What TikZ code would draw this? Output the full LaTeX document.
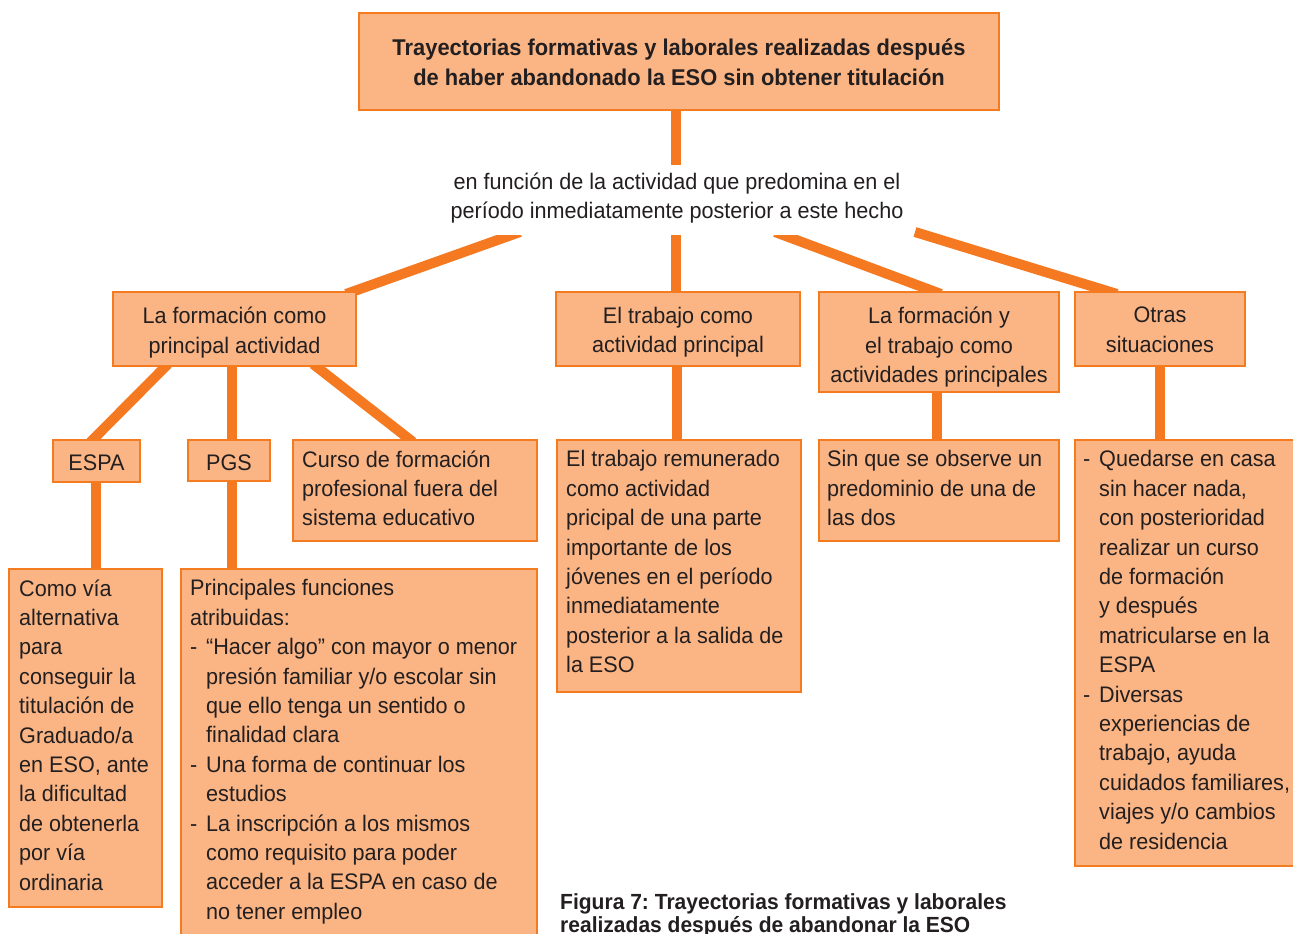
\documentclass[tikz,border=0pt]{standalone}
\usepackage{fontspec}
\setmainfont[FakeStretch=0.96]{Liberation Sans}
\usetikzlibrary{calc,backgrounds}
\definecolor{boxfill}{HTML}{FBB584}
\definecolor{boxline}{HTML}{F47B20}
\definecolor{linkcol}{HTML}{F47920}
\definecolor{inkcol}{HTML}{231F20}
\newcommand{\dashitem}{\makebox[16pt][l]{-}}
\newcommand{\cont}{\makebox[16pt][l]{}}
\frenchspacing
\begin{document}
\begin{tikzpicture}[x=1pt,y=-1pt,
  box/.style={draw=boxline, fill=boxfill, line width=1.2pt, inner sep=0pt, outer sep=0pt, anchor=north west},
  bodytxt/.style={font=\fontsize{22.5}{29.4}\selectfont, text=inkcol, inner sep=0pt, align=left, anchor=north west, execute at begin node=\strut},
  headtxt/.style={font=\fontsize{22.5}{29.4}\selectfont, text=inkcol, inner sep=0pt, align=center, anchor=north, execute at begin node=\strut},
  link/.style={draw=linkcol, line width=10pt},
]
\useasboundingbox (0,0) rectangle (1293,934);
\clip (0,0) rectangle (1293,934);

% ---------- title ----------
\node[box, minimum width=640pt, minimum height=97pt] (top) at (359,13) {};
\node[font=\fontsize{22.8}{30}\selectfont\bfseries, text=inkcol, inner sep=0pt, align=center, anchor=north, execute at begin node=\strut] (topt) at (679,39)
  {Trayectorias formativas y laborales realizadas después\\de haber abandonado la ESO sin obtener titulación};

% ---------- label ----------
\node[font=\fontsize{22.5}{28.5}\selectfont, text=inkcol, fill=white, inner xsep=6pt, inner ysep=8pt, align=center, anchor=north, execute at begin node=\strut] (lab) at (677,165)
  {en función de la actividad que predomina en el\\período inmediatamente posterior a este hecho};

% ---------- level 1 ----------
\node[box, minimum width=243pt, minimum height=74pt] (A) at (113,292) {};
\node[headtxt] (At) at (234.5,307) {La formación como\\principal actividad};
\node[box, minimum width=244pt, minimum height=74pt] (B) at (556,292) {};
\node[headtxt] (Bt) at (678,307) {El trabajo como\\actividad principal};
\node[box, minimum width=240pt, minimum height=100pt] (C) at (819,292) {};
\node[headtxt] (Ct) at (939,307) {La formación y\\el trabajo como\\actividades principales};
\node[box, minimum width=170pt, minimum height=74pt] (D) at (1075,292) {};
\node[headtxt] (Dt) at (1160,307) {Otras\\situaciones};

% ---------- level 2 ----------
\node[box, minimum width=87pt, minimum height=42pt] (espa) at (53,440) {};
\node[headtxt] (espat) at (96.5,450) {ESPA};
\node[box, minimum width=82pt, minimum height=41pt] (pgs) at (188,440) {};
\node[headtxt] (pgst) at (229,450) {PGS};
\node[box, minimum width=244pt, minimum height=101pt] (curso) at (293,440) {};
\node[bodytxt] (cursot) at (302,450.4) {Curso de formación\\profesional fuera del\\sistema educativo};
\node[box, minimum width=244pt, minimum height=252pt] (trab) at (557,440) {};
\node[bodytxt] (trabt) at (566,450.4) {El trabajo remunerado\\como actividad\\pricipal de una parte\\importante de los\\jóvenes en el período\\inmediatamente\\posterior a la salida de\\la ESO};
\node[box, minimum width=240pt, minimum height=101pt] (sinque) at (819,440) {};
\node[bodytxt] (sinquet) at (827,450.4) {Sin que se observe un\\predominio de una de\\las dos};
\node[box, minimum width=230pt, minimum height=426pt] (otras) at (1075,440) {};
\node[bodytxt] (otrast) at (1083,450.4) {\dashitem Quedarse en casa\\\cont sin hacer nada,\\\cont con posterioridad\\\cont realizar un curso\\\cont de formación\\\cont y después\\\cont matricularse en la\\\cont ESPA\\\dashitem Diversas\\\cont experiencias de\\\cont trabajo, ayuda\\\cont cuidados familiares,\\\cont viajes y/o cambios\\\cont de residencia};

% ---------- level 3 ----------
\node[box, minimum width=153pt, minimum height=338pt] (via) at (9,569) {};
\node[bodytxt] (viat) at (19,579.4) {Como vía\\alternativa\\para\\conseguir la\\titulación de\\Graduado/a\\en ESO, ante\\la dificultad\\de obtenerla\\por vía\\ordinaria};
\node[box, minimum width=356pt, minimum height=390pt] (func) at (181,569) {};
\node[bodytxt] (funct) at (190,579.4) {Principales funciones\\atribuidas:\\\dashitem “Hacer algo” con mayor o menor\\\cont presión familiar y/o escolar sin\\\cont que ello tenga un sentido o\\\cont finalidad clara\\\dashitem Una forma de continuar los\\\cont estudios\\\dashitem La inscripción a los mismos\\\cont como requisito para poder\\\cont acceder a la ESPA en caso de\\\cont no tener empleo};

% ---------- caption ----------
\node[font=\fontsize{21.9}{23.5}\selectfont\bfseries, text=inkcol, inner sep=0pt, align=left, anchor=north west, execute at begin node=\strut] (cap) at (560,893)
  {Figura 7: Trayectorias formativas y laborales\\realizadas después de abandonar la ESO};

% ---------- connectors ----------
\coordinate (l1) at (520,232);
\coordinate (l2) at (676,232);
\coordinate (l3) at (775,232);
\coordinate (l4) at (915,232);
\begin{scope}[on background layer]
  \draw[link] (lab.north -| l2) -- ($(top.south -| l2)+(0,-2)$);
  \draw[link] (l1) -- ($(A.north east)+(-10,2)$);
  \draw[link] (l2) -- ($(B.north)+(-2,2)$);
  \draw[link] (l3) -- ($(C.north)+(2,2)$);
  \draw[link] (l4) -- ($(D.north west)+(42,2)$);
  \draw[link] ($(A.south west)+(55,-2)$) -- ($(espa.north)+(-6,2)$);
  \draw[link] ($(A.south west)+(119,-2)$) -- ($(pgs.north west)+(44,2)$);
  \draw[link] ($(A.south west)+(200,-2)$) -- ($(curso.north west)+(120,2)$);
  \draw[link] ($(espa.south west)+(43,-2)$) -- ($(via.north west)+(87,2)$);
  \draw[link] ($(pgs.south west)+(44,-2)$) -- ($(func.north west)+(51,2)$);
  \draw[link] ($(B.south west)+(121,-2)$) -- ($(trab.north west)+(120,2)$);
  \draw[link] ($(C.south west)+(118,-2)$) -- ($(sinque.north west)+(118,2)$);
  \draw[link] ($(D.south west)+(85,-2)$) -- ($(otras.north west)+(85,2)$);
\end{scope}
\end{tikzpicture}
\end{document}
